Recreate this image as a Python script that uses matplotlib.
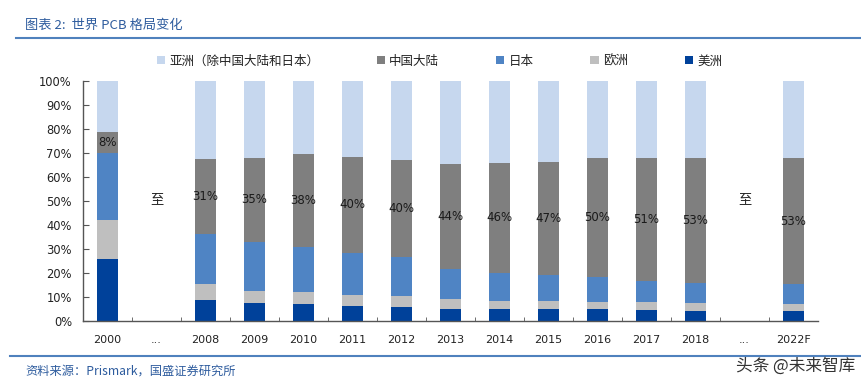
import matplotlib
matplotlib.use("Agg")
import matplotlib.pyplot as plt
import numpy as np
from matplotlib.patches import Patch
from matplotlib.lines import Line2D

plt.rcParams['font.family'] = ['DejaVu Sans']
CJK = ['Noto Sans CJK SC', 'DejaVu Sans']

# 数据（%）
categories = ['2000', '...', '2008', '2009', '2010', '2011', '2012', '2013',
              '2014', '2015', '2016', '2017', '2018', '...', '2022F']
americas = [26.0, 0, 8.9, 7.7, 7.0, 6.4, 6.0, 5.0, 4.8, 4.8, 4.8, 4.5, 4.0, 0, 4.0]
europe = [16.0, 0, 6.7, 4.9, 4.9, 4.6, 4.6, 4.0, 3.7, 3.7, 3.3, 3.6, 3.4, 0, 3.0]
japan = [28.0, 0, 20.7, 20.5, 19.1, 17.5, 16.2, 12.5, 11.6, 10.5, 10.1, 8.6, 8.3, 0, 8.3]
china = [8.7, 0, 31.2, 34.8, 38.6, 39.9, 40.2, 43.9, 45.8, 47.3, 49.7, 51.2, 52.3, 0, 52.7]
asia = [21.3, 0, 32.5, 32.1, 30.4, 31.6, 33.0, 34.6, 34.1, 33.7, 32.1, 32.1, 32.0, 0, 32.0]
china_labels = ['8%', '', '31%', '35%', '38%', '40%', '40%', '44%', '46%', '47%',
                '50%', '51%', '53%', '', '53%']
gap_positions = [1, 13]

series = [
    ('美洲', americas, '#00419A'),
    ('欧洲', europe, '#BFBFBF'),
    ('日本', japan, '#4F84C4'),
    ('中国大陆', china, '#7F7F7F'),
    ('亚洲（除中国大陆和日本）', asia, '#C6D7EE'),
]

fig = plt.figure(figsize=(8.61, 3.88), dpi=100)
ax = fig.add_axes([83 / 861, 1 - 321 / 388, 735 / 861, 240 / 388])

x = np.arange(len(categories))
bottom = np.zeros(len(categories))
for name, vals, color in series:
    vals = np.array(vals, dtype=float)
    ax.bar(x, vals, 0.43, bottom=bottom, color=color, linewidth=0, zorder=2)
    if name == '中国大陆':
        for xi, b, v, lab in zip(x, bottom, vals, china_labels):
            if lab:
                ax.text(xi, b + v / 2, lab, ha='center', va='center',
                        fontsize=8.5, color='#1a1a1a', zorder=3)
    bottom += vals

for g in gap_positions:
    ax.text(g, 50.5, '至', ha='center', va='center', fontsize=9.5,
            family=CJK, color='#222222')

ax.set_xlim(-0.5, len(categories) - 0.5)
ax.set_ylim(0, 100)
ax.set_yticks(np.arange(0, 101, 10))
ax.set_yticklabels([f'{v}%' for v in range(0, 101, 10)])
ax.set_xticks(x)
ax.set_xticklabels(categories)
ax.set_xticks(np.arange(0.5, len(categories) - 0.5, 1), minor=True)
ax.tick_params(axis='x', which='major', length=0, pad=10, labelsize=8, colors='#222222')
ax.tick_params(axis='x', which='minor', direction='in', length=3, color='#555555')
ax.tick_params(axis='y', direction='in', length=4, pad=8, labelsize=8.3,
               colors='#222222')
ax.tick_params(axis='y', color='#555555')
for s in ['top', 'right']:
    ax.spines[s].set_visible(False)
for s in ['left', 'bottom']:
    ax.spines[s].set_color('#555555')
    ax.spines[s].set_linewidth(1.0)

# 图例
order = [4, 3, 2, 1, 0]
handles = [Patch(facecolor=series[i][2], edgecolor='none') for i in order]
labels = [series[i][0] for i in order]
leg = fig.legend(handles, labels, loc='center left', bbox_to_anchor=(151 / 861, 1 - 61 / 388),
                 ncol=5, frameon=False, prop={'family': CJK, 'size': 9},
                 handlelength=0.65, handleheight=0.65, handletextpad=0.35,
                 columnspacing=4.55, borderpad=0)
for t in leg.get_texts():
    t.set_color('#222222')

# 标题与来源
fig.text(25 / 861, 1 - 25 / 388, '图表 2:  世界 PCB 格局变化', family=CJK, style='italic',
         fontsize=9.5, color='#2E5C9E', ha='left', va='center')
fig.add_artist(Line2D([16 / 861, 1], [1 - 38 / 388] * 2, color='#4F81BD', lw=1.5,
                      transform=fig.transFigure))
fig.add_artist(Line2D([10 / 861, 1], [1 - 356 / 388] * 2, color='#4F81BD', lw=1.5,
                      transform=fig.transFigure))
fig.text(25 / 861, 1 - 371 / 388, '资料来源：Prismark，国盛证券研究所', family=CJK,
         style='italic', fontsize=8.8, color='#2E5C9E', ha='left', va='center')
fig.text(855 / 861, 1 - 366 / 388, '头条 @未来智库', family=CJK, fontsize=12,
         color='#333333', ha='right', va='center')

fig.savefig('out.png', dpi=100)
